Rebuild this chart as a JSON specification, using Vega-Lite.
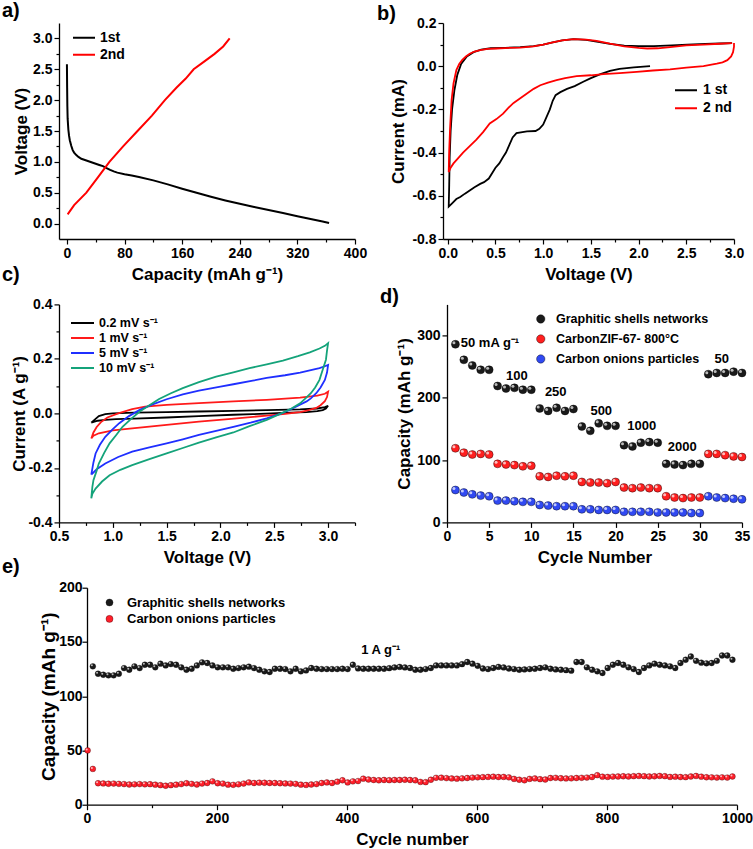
{
"$schema": "https://vega.github.io/schema/vega-lite/v6.json",
"padding": {"left": 2, "top": 1, "right": 0, "bottom": 0},
"config": {
 "view": {"stroke": null},
 "font": "Liberation Sans",
 "axis": {"grid": false, "domainColor": "#000", "domainWidth": 1.3, "tickColor": "#000", "tickWidth": 1.2, "labelColor": "#000", "titleColor": "#000", "labelFont": "Liberation Sans", "titleFont": "Liberation Sans", "labelFontWeight": "bold", "titleFontWeight": "bold", "labelFontSize": 14, "titleFontSize": 17, "labelPadding": 2, "titlePadding": 6, "labelFlush": false, "labelOverlap": false},
 "legend": {"labelFont": "Liberation Sans", "labelFontWeight": "bold", "labelColor": "#000", "padding": 0, "title": null, "labelLimit": 400},
 "title": {"font": "Liberation Sans", "fontWeight": "bold", "fontSize": 20, "color": "#000", "anchor": "start", "frame": "group", "offset": 0, "baseline": "alphabetic"}
},
"datasets": {
 "a": [
  {"s":"1st","i":0,"x":0,"y":2.58},{"s":"1st","i":1,"x":0.3,"y":2.2},{"s":"1st","i":2,"x":0.6,"y":1.9},{"s":"1st","i":3,"x":1,"y":1.7},{"s":"1st","i":4,"x":2,"y":1.52},{"s":"1st","i":5,"x":3,"y":1.42},{"s":"1st","i":6,"x":4,"y":1.35},{"s":"1st","i":7,"x":6,"y":1.26},{"s":"1st","i":8,"x":8,"y":1.19},{"s":"1st","i":9,"x":10,"y":1.15},{"s":"1st","i":10,"x":13,"y":1.11},{"s":"1st","i":11,"x":16,"y":1.08},{"s":"1st","i":12,"x":20,"y":1.05},{"s":"1st","i":13,"x":25,"y":1.03},{"s":"1st","i":14,"x":30,"y":1.01},{"s":"1st","i":15,"x":35,"y":0.99},{"s":"1st","i":16,"x":40,"y":0.97},{"s":"1st","i":17,"x":45,"y":0.95},{"s":"1st","i":18,"x":50,"y":0.93},{"s":"1st","i":19,"x":55,"y":0.9},{"s":"1st","i":20,"x":60,"y":0.87},{"s":"1st","i":21,"x":65,"y":0.845},{"s":"1st","i":22,"x":70,"y":0.825},{"s":"1st","i":23,"x":80,"y":0.8},{"s":"1st","i":24,"x":90,"y":0.78},{"s":"1st","i":25,"x":100,"y":0.755},{"s":"1st","i":26,"x":120,"y":0.7},{"s":"1st","i":27,"x":140,"y":0.635},{"s":"1st","i":28,"x":160,"y":0.565},{"s":"1st","i":29,"x":180,"y":0.5},{"s":"1st","i":30,"x":200,"y":0.435},{"s":"1st","i":31,"x":220,"y":0.375},{"s":"1st","i":32,"x":240,"y":0.32},{"s":"1st","i":33,"x":260,"y":0.27},{"s":"1st","i":34,"x":280,"y":0.22},{"s":"1st","i":35,"x":300,"y":0.17},{"s":"1st","i":36,"x":320,"y":0.12},{"s":"1st","i":37,"x":340,"y":0.07},{"s":"1st","i":38,"x":355,"y":0.035},{"s":"1st","i":39,"x":364,"y":0.01},
  {"s":"2nd","i":0,"x":1,"y":0.15},{"s":"2nd","i":1,"x":10,"y":0.3},{"s":"2nd","i":2,"x":27,"y":0.5},{"s":"2nd","i":3,"x":43,"y":0.75},{"s":"2nd","i":4,"x":59,"y":1.0},{"s":"2nd","i":5,"x":78,"y":1.25},{"s":"2nd","i":6,"x":98,"y":1.5},{"s":"2nd","i":7,"x":118,"y":1.75},{"s":"2nd","i":8,"x":136,"y":2.0},{"s":"2nd","i":9,"x":152,"y":2.2},{"s":"2nd","i":10,"x":165,"y":2.35},{"s":"2nd","i":11,"x":176,"y":2.5},{"s":"2nd","i":12,"x":190,"y":2.62},{"s":"2nd","i":13,"x":205,"y":2.75},{"s":"2nd","i":14,"x":217,"y":2.87},{"s":"2nd","i":15,"x":226,"y":3.0}
 ],
 "b": [
  {"s":"1 st","i":0,"x":2.12,"y":0.0},{"s":"1 st","i":1,"x":1.95,"y":-0.005},{"s":"1 st","i":2,"x":1.8,"y":-0.012},{"s":"1 st","i":3,"x":1.7,"y":-0.022},{"s":"1 st","i":4,"x":1.6,"y":-0.037},{"s":"1 st","i":5,"x":1.5,"y":-0.055},{"s":"1 st","i":6,"x":1.42,"y":-0.072},{"s":"1 st","i":7,"x":1.33,"y":-0.092},{"s":"1 st","i":8,"x":1.25,"y":-0.105},{"s":"1 st","i":9,"x":1.18,"y":-0.12},{"s":"1 st","i":10,"x":1.13,"y":-0.134},{"s":"1 st","i":11,"x":1.1,"y":-0.16},{"s":"1 st","i":12,"x":1.07,"y":-0.2},{"s":"1 st","i":13,"x":1.03,"y":-0.24},{"s":"1 st","i":14,"x":1.0,"y":-0.27},{"s":"1 st","i":15,"x":0.96,"y":-0.29},{"s":"1 st","i":16,"x":0.92,"y":-0.3},{"s":"1 st","i":17,"x":0.83,"y":-0.302},{"s":"1 st","i":18,"x":0.72,"y":-0.31},{"s":"1 st","i":19,"x":0.68,"y":-0.33},{"s":"1 st","i":20,"x":0.65,"y":-0.36},{"s":"1 st","i":21,"x":0.61,"y":-0.4},{"s":"1 st","i":22,"x":0.58,"y":-0.42},{"s":"1 st","i":23,"x":0.54,"y":-0.45},{"s":"1 st","i":24,"x":0.5,"y":-0.47},{"s":"1 st","i":25,"x":0.43,"y":-0.52},{"s":"1 st","i":26,"x":0.38,"y":-0.537},{"s":"1 st","i":27,"x":0.34,"y":-0.545},{"s":"1 st","i":28,"x":0.28,"y":-0.56},{"s":"1 st","i":29,"x":0.23,"y":-0.575},{"s":"1 st","i":30,"x":0.18,"y":-0.59},{"s":"1 st","i":31,"x":0.13,"y":-0.606},{"s":"1 st","i":32,"x":0.09,"y":-0.615},{"s":"1 st","i":33,"x":0.04,"y":-0.637},{"s":"1 st","i":34,"x":0.01,"y":-0.65},{"s":"1 st","i":35,"x":0.015,"y":-0.55},{"s":"1 st","i":36,"x":0.02,"y":-0.42},{"s":"1 st","i":37,"x":0.03,"y":-0.3},{"s":"1 st","i":38,"x":0.045,"y":-0.2},{"s":"1 st","i":39,"x":0.07,"y":-0.11},{"s":"1 st","i":40,"x":0.1,"y":-0.04},{"s":"1 st","i":41,"x":0.14,"y":0.01},{"s":"1 st","i":42,"x":0.2,"y":0.045},{"s":"1 st","i":43,"x":0.27,"y":0.065},{"s":"1 st","i":44,"x":0.35,"y":0.077},{"s":"1 st","i":45,"x":0.45,"y":0.083},{"s":"1 st","i":46,"x":0.6,"y":0.085},{"s":"1 st","i":47,"x":0.76,"y":0.088},{"s":"1 st","i":48,"x":0.9,"y":0.093},{"s":"1 st","i":49,"x":1.0,"y":0.1},{"s":"1 st","i":50,"x":1.1,"y":0.11},{"s":"1 st","i":51,"x":1.2,"y":0.12},{"s":"1 st","i":52,"x":1.32,"y":0.125},{"s":"1 st","i":53,"x":1.45,"y":0.122},{"s":"1 st","i":54,"x":1.56,"y":0.114},{"s":"1 st","i":55,"x":1.7,"y":0.103},{"s":"1 st","i":56,"x":1.85,"y":0.095},{"s":"1 st","i":57,"x":2.0,"y":0.093},{"s":"1 st","i":58,"x":2.16,"y":0.093},{"s":"1 st","i":59,"x":2.35,"y":0.096},{"s":"1 st","i":60,"x":2.51,"y":0.1},{"s":"1 st","i":61,"x":2.7,"y":0.103},{"s":"1 st","i":62,"x":2.85,"y":0.105},{"s":"1 st","i":63,"x":2.98,"y":0.107},
  {"s":"2 nd","i":0,"x":3.0,"y":0.107},{"s":"2 nd","i":1,"x":3.0,"y":0.09},{"s":"2 nd","i":2,"x":2.99,"y":0.065},{"s":"2 nd","i":3,"x":2.97,"y":0.045},{"s":"2 nd","i":4,"x":2.93,"y":0.028},{"s":"2 nd","i":5,"x":2.88,"y":0.018},{"s":"2 nd","i":6,"x":2.82,"y":0.012},{"s":"2 nd","i":7,"x":2.68,"y":0.0},{"s":"2 nd","i":8,"x":2.5,"y":-0.007},{"s":"2 nd","i":9,"x":2.33,"y":-0.015},{"s":"2 nd","i":10,"x":2.15,"y":-0.02},{"s":"2 nd","i":11,"x":1.98,"y":-0.026},{"s":"2 nd","i":12,"x":1.8,"y":-0.032},{"s":"2 nd","i":13,"x":1.63,"y":-0.037},{"s":"2 nd","i":14,"x":1.5,"y":-0.042},{"s":"2 nd","i":15,"x":1.35,"y":-0.046},{"s":"2 nd","i":16,"x":1.23,"y":-0.055},{"s":"2 nd","i":17,"x":1.14,"y":-0.065},{"s":"2 nd","i":18,"x":1.05,"y":-0.076},{"s":"2 nd","i":19,"x":0.97,"y":-0.088},{"s":"2 nd","i":20,"x":0.9,"y":-0.105},{"s":"2 nd","i":21,"x":0.83,"y":-0.126},{"s":"2 nd","i":22,"x":0.76,"y":-0.148},{"s":"2 nd","i":23,"x":0.69,"y":-0.17},{"s":"2 nd","i":24,"x":0.63,"y":-0.195},{"s":"2 nd","i":25,"x":0.58,"y":-0.22},{"s":"2 nd","i":26,"x":0.51,"y":-0.245},{"s":"2 nd","i":27,"x":0.44,"y":-0.265},{"s":"2 nd","i":28,"x":0.37,"y":-0.305},{"s":"2 nd","i":29,"x":0.3,"y":-0.34},{"s":"2 nd","i":30,"x":0.23,"y":-0.37},{"s":"2 nd","i":31,"x":0.16,"y":-0.4},{"s":"2 nd","i":32,"x":0.1,"y":-0.43},{"s":"2 nd","i":33,"x":0.06,"y":-0.45},{"s":"2 nd","i":34,"x":0.03,"y":-0.47},{"s":"2 nd","i":35,"x":0.01,"y":-0.49},{"s":"2 nd","i":36,"x":0.015,"y":-0.39},{"s":"2 nd","i":37,"x":0.025,"y":-0.28},{"s":"2 nd","i":38,"x":0.04,"y":-0.157},{"s":"2 nd","i":39,"x":0.06,"y":-0.08},{"s":"2 nd","i":40,"x":0.09,"y":-0.018},{"s":"2 nd","i":41,"x":0.12,"y":0.01},{"s":"2 nd","i":42,"x":0.15,"y":0.028},{"s":"2 nd","i":43,"x":0.19,"y":0.045},{"s":"2 nd","i":44,"x":0.23,"y":0.058},{"s":"2 nd","i":45,"x":0.28,"y":0.068},{"s":"2 nd","i":46,"x":0.34,"y":0.074},{"s":"2 nd","i":47,"x":0.42,"y":0.08},{"s":"2 nd","i":48,"x":0.51,"y":0.082},{"s":"2 nd","i":49,"x":0.6,"y":0.084},{"s":"2 nd","i":50,"x":0.76,"y":0.086},{"s":"2 nd","i":51,"x":0.9,"y":0.092},{"s":"2 nd","i":52,"x":1.0,"y":0.1},{"s":"2 nd","i":53,"x":1.1,"y":0.11},{"s":"2 nd","i":54,"x":1.2,"y":0.12},{"s":"2 nd","i":55,"x":1.32,"y":0.125},{"s":"2 nd","i":56,"x":1.45,"y":0.123},{"s":"2 nd","i":57,"x":1.56,"y":0.117},{"s":"2 nd","i":58,"x":1.7,"y":0.104},{"s":"2 nd","i":59,"x":1.85,"y":0.092},{"s":"2 nd","i":60,"x":2.0,"y":0.085},{"s":"2 nd","i":61,"x":2.09,"y":0.082},{"s":"2 nd","i":62,"x":2.2,"y":0.083},{"s":"2 nd","i":63,"x":2.33,"y":0.088},{"s":"2 nd","i":64,"x":2.5,"y":0.096},{"s":"2 nd","i":65,"x":2.68,"y":0.1},{"s":"2 nd","i":66,"x":2.85,"y":0.104},{"s":"2 nd","i":67,"x":2.98,"y":0.107}
 ],
 "c": [
  {"s":"0.2 mV s⁻¹","i":0,"x":0.8,"y":-0.034},{"s":"0.2 mV s⁻¹","i":1,"x":0.84,"y":-0.02},{"s":"0.2 mV s⁻¹","i":2,"x":0.87,"y":-0.01},{"s":"0.2 mV s⁻¹","i":3,"x":0.93,"y":-0.003},{"s":"0.2 mV s⁻¹","i":4,"x":1.0,"y":0.0},{"s":"0.2 mV s⁻¹","i":5,"x":1.2,"y":0.003},{"s":"0.2 mV s⁻¹","i":6,"x":1.5,"y":0.005},{"s":"0.2 mV s⁻¹","i":7,"x":1.8,"y":0.007},{"s":"0.2 mV s⁻¹","i":8,"x":2.12,"y":0.009},{"s":"0.2 mV s⁻¹","i":9,"x":2.43,"y":0.012},{"s":"0.2 mV s⁻¹","i":10,"x":2.74,"y":0.015},{"s":"0.2 mV s⁻¹","i":11,"x":2.9,"y":0.018},{"s":"0.2 mV s⁻¹","i":12,"x":2.97,"y":0.023},{"s":"0.2 mV s⁻¹","i":13,"x":3.0,"y":0.028},{"s":"0.2 mV s⁻¹","i":14,"x":2.98,"y":0.018},{"s":"0.2 mV s⁻¹","i":15,"x":2.95,"y":0.012},{"s":"0.2 mV s⁻¹","i":16,"x":2.9,"y":0.008},{"s":"0.2 mV s⁻¹","i":17,"x":2.8,"y":0.005},{"s":"0.2 mV s⁻¹","i":18,"x":2.58,"y":0.002},{"s":"0.2 mV s⁻¹","i":19,"x":2.3,"y":-0.003},{"s":"0.2 mV s⁻¹","i":20,"x":2.12,"y":-0.005},{"s":"0.2 mV s⁻¹","i":21,"x":1.8,"y":-0.01},{"s":"0.2 mV s⁻¹","i":22,"x":1.5,"y":-0.015},{"s":"0.2 mV s⁻¹","i":23,"x":1.2,"y":-0.019},{"s":"0.2 mV s⁻¹","i":24,"x":1.03,"y":-0.021},{"s":"0.2 mV s⁻¹","i":25,"x":0.93,"y":-0.024},{"s":"0.2 mV s⁻¹","i":26,"x":0.86,"y":-0.027},{"s":"0.2 mV s⁻¹","i":27,"x":0.8,"y":-0.034},
  {"s":"1 mV s⁻¹","i":0,"x":0.8,"y":-0.092},{"s":"1 mV s⁻¹","i":1,"x":0.82,"y":-0.07},{"s":"1 mV s⁻¹","i":2,"x":0.85,"y":-0.05},{"s":"1 mV s⁻¹","i":3,"x":0.89,"y":-0.032},{"s":"1 mV s⁻¹","i":4,"x":0.95,"y":-0.015},{"s":"1 mV s⁻¹","i":5,"x":1.05,"y":0.0},{"s":"1 mV s⁻¹","i":6,"x":1.18,"y":0.016},{"s":"1 mV s⁻¹","i":7,"x":1.3,"y":0.025},{"s":"1 mV s⁻¹","i":8,"x":1.5,"y":0.031},{"s":"1 mV s⁻¹","i":9,"x":1.8,"y":0.038},{"s":"1 mV s⁻¹","i":10,"x":2.12,"y":0.044},{"s":"1 mV s⁻¹","i":11,"x":2.43,"y":0.05},{"s":"1 mV s⁻¹","i":12,"x":2.74,"y":0.058},{"s":"1 mV s⁻¹","i":13,"x":2.9,"y":0.065},{"s":"1 mV s⁻¹","i":14,"x":2.97,"y":0.072},{"s":"1 mV s⁻¹","i":15,"x":3.0,"y":0.08},{"s":"1 mV s⁻¹","i":16,"x":2.99,"y":0.06},{"s":"1 mV s⁻¹","i":17,"x":2.97,"y":0.045},{"s":"1 mV s⁻¹","i":18,"x":2.93,"y":0.03},{"s":"1 mV s⁻¹","i":19,"x":2.89,"y":0.02},{"s":"1 mV s⁻¹","i":20,"x":2.82,"y":0.012},{"s":"1 mV s⁻¹","i":21,"x":2.74,"y":0.005},{"s":"1 mV s⁻¹","i":22,"x":2.6,"y":-0.002},{"s":"1 mV s⁻¹","i":23,"x":2.43,"y":-0.008},{"s":"1 mV s⁻¹","i":24,"x":2.1,"y":-0.02},{"s":"1 mV s⁻¹","i":25,"x":1.8,"y":-0.03},{"s":"1 mV s⁻¹","i":26,"x":1.5,"y":-0.042},{"s":"1 mV s⁻¹","i":27,"x":1.18,"y":-0.055},{"s":"1 mV s⁻¹","i":28,"x":1.0,"y":-0.062},{"s":"1 mV s⁻¹","i":29,"x":0.87,"y":-0.073},{"s":"1 mV s⁻¹","i":30,"x":0.82,"y":-0.082},{"s":"1 mV s⁻¹","i":31,"x":0.8,"y":-0.092},
  {"s":"5 mV s⁻¹","i":0,"x":0.8,"y":-0.225},{"s":"5 mV s⁻¹","i":1,"x":0.82,"y":-0.18},{"s":"5 mV s⁻¹","i":2,"x":0.84,"y":-0.147},{"s":"5 mV s⁻¹","i":3,"x":0.88,"y":-0.115},{"s":"5 mV s⁻¹","i":4,"x":0.93,"y":-0.086},{"s":"5 mV s⁻¹","i":5,"x":1.0,"y":-0.058},{"s":"5 mV s⁻¹","i":6,"x":1.06,"y":-0.036},{"s":"5 mV s⁻¹","i":7,"x":1.15,"y":-0.01},{"s":"5 mV s⁻¹","i":8,"x":1.25,"y":0.013},{"s":"5 mV s⁻¹","i":9,"x":1.37,"y":0.033},{"s":"5 mV s⁻¹","i":10,"x":1.5,"y":0.052},{"s":"5 mV s⁻¹","i":11,"x":1.65,"y":0.07},{"s":"5 mV s⁻¹","i":12,"x":1.8,"y":0.084},{"s":"5 mV s⁻¹","i":13,"x":2.0,"y":0.098},{"s":"5 mV s⁻¹","i":14,"x":2.12,"y":0.107},{"s":"5 mV s⁻¹","i":15,"x":2.3,"y":0.12},{"s":"5 mV s⁻¹","i":16,"x":2.43,"y":0.13},{"s":"5 mV s⁻¹","i":17,"x":2.6,"y":0.14},{"s":"5 mV s⁻¹","i":18,"x":2.74,"y":0.15},{"s":"5 mV s⁻¹","i":19,"x":2.85,"y":0.16},{"s":"5 mV s⁻¹","i":20,"x":2.92,"y":0.166},{"s":"5 mV s⁻¹","i":21,"x":2.97,"y":0.173},{"s":"5 mV s⁻¹","i":22,"x":3.0,"y":0.178},{"s":"5 mV s⁻¹","i":23,"x":2.99,"y":0.15},{"s":"5 mV s⁻¹","i":24,"x":2.97,"y":0.123},{"s":"5 mV s⁻¹","i":25,"x":2.93,"y":0.095},{"s":"5 mV s⁻¹","i":26,"x":2.89,"y":0.074},{"s":"5 mV s⁻¹","i":27,"x":2.84,"y":0.055},{"s":"5 mV s⁻¹","i":28,"x":2.8,"y":0.044},{"s":"5 mV s⁻¹","i":29,"x":2.72,"y":0.028},{"s":"5 mV s⁻¹","i":30,"x":2.64,"y":0.013},{"s":"5 mV s⁻¹","i":31,"x":2.55,"y":-0.003},{"s":"5 mV s⁻¹","i":32,"x":2.43,"y":-0.018},{"s":"5 mV s⁻¹","i":33,"x":2.28,"y":-0.034},{"s":"5 mV s⁻¹","i":34,"x":2.12,"y":-0.049},{"s":"5 mV s⁻¹","i":35,"x":1.96,"y":-0.064},{"s":"5 mV s⁻¹","i":36,"x":1.8,"y":-0.079},{"s":"5 mV s⁻¹","i":37,"x":1.65,"y":-0.095},{"s":"5 mV s⁻¹","i":38,"x":1.5,"y":-0.11},{"s":"5 mV s⁻¹","i":39,"x":1.34,"y":-0.125},{"s":"5 mV s⁻¹","i":40,"x":1.18,"y":-0.14},{"s":"5 mV s⁻¹","i":41,"x":1.05,"y":-0.16},{"s":"5 mV s⁻¹","i":42,"x":0.93,"y":-0.184},{"s":"5 mV s⁻¹","i":43,"x":0.85,"y":-0.205},{"s":"5 mV s⁻¹","i":44,"x":0.8,"y":-0.225},
  {"s":"10 mV s⁻¹","i":0,"x":0.8,"y":-0.312},{"s":"10 mV s⁻¹","i":1,"x":0.81,"y":-0.27},{"s":"10 mV s⁻¹","i":2,"x":0.82,"y":-0.245},{"s":"10 mV s⁻¹","i":3,"x":0.85,"y":-0.21},{"s":"10 mV s⁻¹","i":4,"x":0.87,"y":-0.184},{"s":"10 mV s⁻¹","i":5,"x":0.92,"y":-0.145},{"s":"10 mV s⁻¹","i":6,"x":0.97,"y":-0.11},{"s":"10 mV s⁻¹","i":7,"x":1.03,"y":-0.08},{"s":"10 mV s⁻¹","i":8,"x":1.09,"y":-0.049},{"s":"10 mV s⁻¹","i":9,"x":1.17,"y":-0.02},{"s":"10 mV s⁻¹","i":10,"x":1.25,"y":0.007},{"s":"10 mV s⁻¹","i":11,"x":1.34,"y":0.03},{"s":"10 mV s⁻¹","i":12,"x":1.43,"y":0.053},{"s":"10 mV s⁻¹","i":13,"x":1.54,"y":0.074},{"s":"10 mV s⁻¹","i":14,"x":1.65,"y":0.093},{"s":"10 mV s⁻¹","i":15,"x":1.8,"y":0.115},{"s":"10 mV s⁻¹","i":16,"x":1.96,"y":0.135},{"s":"10 mV s⁻¹","i":17,"x":2.12,"y":0.151},{"s":"10 mV s⁻¹","i":18,"x":2.27,"y":0.166},{"s":"10 mV s⁻¹","i":19,"x":2.43,"y":0.18},{"s":"10 mV s⁻¹","i":20,"x":2.58,"y":0.194},{"s":"10 mV s⁻¹","i":21,"x":2.72,"y":0.21},{"s":"10 mV s⁻¹","i":22,"x":2.83,"y":0.224},{"s":"10 mV s⁻¹","i":23,"x":2.92,"y":0.238},{"s":"10 mV s⁻¹","i":24,"x":2.97,"y":0.248},{"s":"10 mV s⁻¹","i":25,"x":3.0,"y":0.258},{"s":"10 mV s⁻¹","i":26,"x":2.99,"y":0.23},{"s":"10 mV s⁻¹","i":27,"x":2.98,"y":0.197},{"s":"10 mV s⁻¹","i":28,"x":2.95,"y":0.16},{"s":"10 mV s⁻¹","i":29,"x":2.92,"y":0.123},{"s":"10 mV s⁻¹","i":30,"x":2.88,"y":0.095},{"s":"10 mV s⁻¹","i":31,"x":2.84,"y":0.074},{"s":"10 mV s⁻¹","i":32,"x":2.79,"y":0.055},{"s":"10 mV s⁻¹","i":33,"x":2.74,"y":0.037},{"s":"10 mV s⁻¹","i":34,"x":2.66,"y":0.018},{"s":"10 mV s⁻¹","i":35,"x":2.58,"y":0.003},{"s":"10 mV s⁻¹","i":36,"x":2.43,"y":-0.024},{"s":"10 mV s⁻¹","i":37,"x":2.27,"y":-0.047},{"s":"10 mV s⁻¹","i":38,"x":2.12,"y":-0.07},{"s":"10 mV s⁻¹","i":39,"x":1.96,"y":-0.088},{"s":"10 mV s⁻¹","i":40,"x":1.8,"y":-0.107},{"s":"10 mV s⁻¹","i":41,"x":1.65,"y":-0.127},{"s":"10 mV s⁻¹","i":42,"x":1.5,"y":-0.147},{"s":"10 mV s⁻¹","i":43,"x":1.34,"y":-0.168},{"s":"10 mV s⁻¹","i":44,"x":1.18,"y":-0.19},{"s":"10 mV s⁻¹","i":45,"x":1.07,"y":-0.207},{"s":"10 mV s⁻¹","i":46,"x":0.97,"y":-0.227},{"s":"10 mV s⁻¹","i":47,"x":0.9,"y":-0.25},{"s":"10 mV s⁻¹","i":48,"x":0.84,"y":-0.276},{"s":"10 mV s⁻¹","i":49,"x":0.81,"y":-0.295},{"s":"10 mV s⁻¹","i":50,"x":0.8,"y":-0.312}
 ],
 "d": [
  {"s":"G","x":1,"y":286},{"s":"G","x":2,"y":261},{"s":"G","x":3,"y":252},{"s":"G","x":4,"y":245},{"s":"G","x":5,"y":245},{"s":"G","x":6,"y":219},{"s":"G","x":7,"y":215},{"s":"G","x":8,"y":216},{"s":"G","x":9,"y":213},{"s":"G","x":10,"y":213},{"s":"G","x":11,"y":183},{"s":"G","x":12,"y":179},{"s":"G","x":13,"y":184},{"s":"G","x":14,"y":179},{"s":"G","x":15,"y":182},{"s":"G","x":16,"y":154},{"s":"G","x":17,"y":147},{"s":"G","x":18,"y":159},{"s":"G","x":19,"y":155},{"s":"G","x":20,"y":155},{"s":"G","x":21,"y":124},{"s":"G","x":22,"y":122},{"s":"G","x":23,"y":128},{"s":"G","x":24,"y":129},{"s":"G","x":25,"y":128},{"s":"G","x":26,"y":94},{"s":"G","x":27,"y":93},{"s":"G","x":28,"y":92},{"s":"G","x":29,"y":94},{"s":"G","x":30,"y":94},{"s":"G","x":31,"y":238},{"s":"G","x":32,"y":240},{"s":"G","x":33,"y":240},{"s":"G","x":34,"y":242},{"s":"G","x":35,"y":240},
  {"s":"Z","x":1,"y":119},{"s":"Z","x":2,"y":112},{"s":"Z","x":3,"y":109},{"s":"Z","x":4,"y":110},{"s":"Z","x":5,"y":109},{"s":"Z","x":6,"y":94},{"s":"Z","x":7,"y":93},{"s":"Z","x":8,"y":92},{"s":"Z","x":9,"y":90},{"s":"Z","x":10,"y":91},{"s":"Z","x":11,"y":74},{"s":"Z","x":12,"y":73},{"s":"Z","x":13,"y":75},{"s":"Z","x":14,"y":74},{"s":"Z","x":15,"y":75},{"s":"Z","x":16,"y":65},{"s":"Z","x":17,"y":64},{"s":"Z","x":18,"y":64},{"s":"Z","x":19,"y":63},{"s":"Z","x":20,"y":65},{"s":"Z","x":21,"y":56},{"s":"Z","x":22,"y":55},{"s":"Z","x":23,"y":56},{"s":"Z","x":24,"y":55},{"s":"Z","x":25,"y":55},{"s":"Z","x":26,"y":42},{"s":"Z","x":27,"y":40},{"s":"Z","x":28,"y":39},{"s":"Z","x":29,"y":40},{"s":"Z","x":30,"y":40},{"s":"Z","x":31,"y":110},{"s":"Z","x":32,"y":110},{"s":"Z","x":33,"y":108},{"s":"Z","x":34,"y":106},{"s":"Z","x":35,"y":105},
  {"s":"O","x":1,"y":52},{"s":"O","x":2,"y":48},{"s":"O","x":3,"y":45},{"s":"O","x":4,"y":43},{"s":"O","x":5,"y":42},{"s":"O","x":6,"y":35},{"s":"O","x":7,"y":35},{"s":"O","x":8,"y":34},{"s":"O","x":9,"y":33},{"s":"O","x":10,"y":33},{"s":"O","x":11,"y":28},{"s":"O","x":12,"y":27},{"s":"O","x":13,"y":26},{"s":"O","x":14,"y":26},{"s":"O","x":15,"y":26},{"s":"O","x":16,"y":21},{"s":"O","x":17,"y":21},{"s":"O","x":18,"y":20},{"s":"O","x":19,"y":20},{"s":"O","x":20,"y":20},{"s":"O","x":21,"y":17},{"s":"O","x":22,"y":17},{"s":"O","x":23,"y":17},{"s":"O","x":24,"y":17},{"s":"O","x":25,"y":16},{"s":"O","x":26,"y":16},{"s":"O","x":27,"y":16},{"s":"O","x":28,"y":16},{"s":"O","x":29,"y":15},{"s":"O","x":30,"y":15},{"s":"O","x":31,"y":42},{"s":"O","x":32,"y":40},{"s":"O","x":33,"y":39},{"s":"O","x":34,"y":38},{"s":"O","x":35,"y":37}
 ],
 "dnote": [
  {"x":5.1,"y":288,"t":"50 mA g⁻¹"},{"x":8.3,"y":235,"t":"100"},{"x":12.9,"y":210,"t":"250"},{"x":18.3,"y":179,"t":"500"},{"x":23.1,"y":155,"t":"1000"},{"x":27.9,"y":121,"t":"2000"},{"x":32.6,"y":263,"t":"50"}
 ],
 "e": [
  {"s":"G","x":9,"y":127.5},{"s":"G","x":17,"y":120.7},{"s":"G","x":25,"y":119.8},{"s":"G","x":33,"y":119.2},{"s":"G","x":41,"y":119.2},{"s":"G","x":49,"y":120.7},{"s":"G","x":57,"y":125.9},{"s":"G","x":65,"y":124.4},{"s":"G","x":73,"y":127.5},{"s":"G","x":81,"y":125.9},{"s":"G","x":89,"y":129},{"s":"G","x":97,"y":129},{"s":"G","x":105,"y":126.6},{"s":"G","x":113,"y":130},{"s":"G","x":121,"y":128.4},{"s":"G","x":129,"y":129.6},{"s":"G","x":137,"y":129},{"s":"G","x":145,"y":126.6},{"s":"G","x":153,"y":124.4},{"s":"G","x":161,"y":125.3},{"s":"G","x":169,"y":128.4},{"s":"G","x":177,"y":131.2},{"s":"G","x":185,"y":130.6},{"s":"G","x":193,"y":128.4},{"s":"G","x":201,"y":126.6},{"s":"G","x":209,"y":126.6},{"s":"G","x":217,"y":126.6},{"s":"G","x":225,"y":125.3},{"s":"G","x":233,"y":125.9},{"s":"G","x":241,"y":126.6},{"s":"G","x":249,"y":127.2},{"s":"G","x":257,"y":125.9},{"s":"G","x":265,"y":124.4},{"s":"G","x":273,"y":122.9},{"s":"G","x":281,"y":122.3},{"s":"G","x":289,"y":125.3},{"s":"G","x":297,"y":125.3},{"s":"G","x":305,"y":125},{"s":"G","x":313,"y":122.9},{"s":"G","x":321,"y":125.3},{"s":"G","x":329,"y":122.9},{"s":"G","x":337,"y":123.8},{"s":"G","x":345,"y":126},{"s":"G","x":353,"y":125.3},{"s":"G","x":361,"y":125},{"s":"G","x":369,"y":125},{"s":"G","x":377,"y":125},{"s":"G","x":385,"y":125},{"s":"G","x":393,"y":125.3},{"s":"G","x":401,"y":125},{"s":"G","x":409,"y":129},{"s":"G","x":417,"y":125.6},{"s":"G","x":425,"y":125.3},{"s":"G","x":433,"y":125.3},{"s":"G","x":441,"y":125.3},{"s":"G","x":449,"y":125.3},{"s":"G","x":457,"y":125.3},{"s":"G","x":465,"y":125.8},{"s":"G","x":473,"y":126.5},{"s":"G","x":481,"y":127},{"s":"G","x":489,"y":126.5},{"s":"G","x":497,"y":126},{"s":"G","x":505,"y":124.4},{"s":"G","x":513,"y":124.4},{"s":"G","x":521,"y":125},{"s":"G","x":529,"y":126},{"s":"G","x":537,"y":128.4},{"s":"G","x":545,"y":128.4},{"s":"G","x":553,"y":128.4},{"s":"G","x":561,"y":128.4},{"s":"G","x":569,"y":128.4},{"s":"G","x":577,"y":129.5},{"s":"G","x":585,"y":131.5},{"s":"G","x":593,"y":130},{"s":"G","x":601,"y":128},{"s":"G","x":609,"y":125.5},{"s":"G","x":617,"y":125},{"s":"G","x":625,"y":126},{"s":"G","x":633,"y":127},{"s":"G","x":641,"y":126.5},{"s":"G","x":649,"y":125.5},{"s":"G","x":657,"y":125},{"s":"G","x":665,"y":124.4},{"s":"G","x":673,"y":124.7},{"s":"G","x":681,"y":125},{"s":"G","x":689,"y":125.3},{"s":"G","x":697,"y":126},{"s":"G","x":705,"y":126.6},{"s":"G","x":713,"y":125.3},{"s":"G","x":721,"y":124.7},{"s":"G","x":729,"y":124.4},{"s":"G","x":737,"y":124},{"s":"G","x":745,"y":123.5},{"s":"G","x":753,"y":131.5},{"s":"G","x":761,"y":131.5},{"s":"G","x":769,"y":126.6},{"s":"G","x":777,"y":124.4},{"s":"G","x":785,"y":122.9},{"s":"G","x":793,"y":121.4},{"s":"G","x":801,"y":126},{"s":"G","x":809,"y":129},{"s":"G","x":817,"y":130.6},{"s":"G","x":825,"y":129},{"s":"G","x":833,"y":126.6},{"s":"G","x":841,"y":125},{"s":"G","x":849,"y":122.3},{"s":"G","x":857,"y":126},{"s":"G","x":865,"y":128.4},{"s":"G","x":873,"y":130},{"s":"G","x":881,"y":129},{"s":"G","x":889,"y":128.4},{"s":"G","x":897,"y":127.5},{"s":"G","x":905,"y":126},{"s":"G","x":913,"y":130.6},{"s":"G","x":921,"y":133.6},{"s":"G","x":929,"y":136.6},{"s":"G","x":937,"y":132.6},{"s":"G","x":945,"y":130.9},{"s":"G","x":953,"y":130.3},{"s":"G","x":961,"y":130.6},{"s":"G","x":969,"y":132.6},{"s":"G","x":977,"y":137.5},{"s":"G","x":985,"y":137.5},{"s":"G","x":993,"y":133.6},
  {"s":"O","x":1,"y":50},{"s":"O","x":9,"y":33},{"s":"O","x":17,"y":19.8},{"s":"O","x":25,"y":19.6},{"s":"O","x":33,"y":19.3},{"s":"O","x":41,"y":19.5},{"s":"O","x":49,"y":19.2},{"s":"O","x":57,"y":19.0},{"s":"O","x":65,"y":18.6},{"s":"O","x":73,"y":18.8},{"s":"O","x":81,"y":19.0},{"s":"O","x":89,"y":18.8},{"s":"O","x":97,"y":18.9},{"s":"O","x":105,"y":18.5},{"s":"O","x":113,"y":18.0},{"s":"O","x":121,"y":17.5},{"s":"O","x":129,"y":18.0},{"s":"O","x":137,"y":18.5},{"s":"O","x":145,"y":19.0},{"s":"O","x":153,"y":19.8},{"s":"O","x":161,"y":19.2},{"s":"O","x":169,"y":18.6},{"s":"O","x":177,"y":19.5},{"s":"O","x":185,"y":20.0},{"s":"O","x":193,"y":21.5},{"s":"O","x":201,"y":19.8},{"s":"O","x":209,"y":19.5},{"s":"O","x":217,"y":18.5},{"s":"O","x":225,"y":18.3},{"s":"O","x":233,"y":18.8},{"s":"O","x":241,"y":19.5},{"s":"O","x":249,"y":20.5},{"s":"O","x":257,"y":20.0},{"s":"O","x":265,"y":20.3},{"s":"O","x":273,"y":20.2},{"s":"O","x":281,"y":20.0},{"s":"O","x":289,"y":20.0},{"s":"O","x":297,"y":19.8},{"s":"O","x":305,"y":19.6},{"s":"O","x":313,"y":19.5},{"s":"O","x":321,"y":19.2},{"s":"O","x":329,"y":18.5},{"s":"O","x":337,"y":18.2},{"s":"O","x":345,"y":18.6},{"s":"O","x":353,"y":19.0},{"s":"O","x":361,"y":20.0},{"s":"O","x":369,"y":20.5},{"s":"O","x":377,"y":20.0},{"s":"O","x":385,"y":21.2},{"s":"O","x":393,"y":22.5},{"s":"O","x":401,"y":20.5},{"s":"O","x":409,"y":21.5},{"s":"O","x":417,"y":21.8},{"s":"O","x":425,"y":24.0},{"s":"O","x":433,"y":23.2},{"s":"O","x":441,"y":22.8},{"s":"O","x":449,"y":22.5},{"s":"O","x":457,"y":22.8},{"s":"O","x":465,"y":22.6},{"s":"O","x":473,"y":22.8},{"s":"O","x":481,"y":22.8},{"s":"O","x":489,"y":23.0},{"s":"O","x":497,"y":22.8},{"s":"O","x":505,"y":22.5},{"s":"O","x":513,"y":21.0},{"s":"O","x":521,"y":20.8},{"s":"O","x":529,"y":23.0},{"s":"O","x":537,"y":24.8},{"s":"O","x":545,"y":24.9},{"s":"O","x":553,"y":24.5},{"s":"O","x":561,"y":24.2},{"s":"O","x":569,"y":24.0},{"s":"O","x":577,"y":24.3},{"s":"O","x":585,"y":24.6},{"s":"O","x":593,"y":25.0},{"s":"O","x":601,"y":25.2},{"s":"O","x":609,"y":25.4},{"s":"O","x":617,"y":25.6},{"s":"O","x":625,"y":25.8},{"s":"O","x":633,"y":25.5},{"s":"O","x":641,"y":25.6},{"s":"O","x":649,"y":25.2},{"s":"O","x":657,"y":23.8},{"s":"O","x":665,"y":23.0},{"s":"O","x":673,"y":22.5},{"s":"O","x":681,"y":23.8},{"s":"O","x":689,"y":24.2},{"s":"O","x":697,"y":23.5},{"s":"O","x":705,"y":23.2},{"s":"O","x":713,"y":24.6},{"s":"O","x":721,"y":24.8},{"s":"O","x":729,"y":24.4},{"s":"O","x":737,"y":24.2},{"s":"O","x":745,"y":24.3},{"s":"O","x":753,"y":24.6},{"s":"O","x":761,"y":24.8},{"s":"O","x":769,"y":25.0},{"s":"O","x":777,"y":25.5},{"s":"O","x":785,"y":27.2},{"s":"O","x":793,"y":25.8},{"s":"O","x":801,"y":25.6},{"s":"O","x":809,"y":25.9},{"s":"O","x":817,"y":26.0},{"s":"O","x":825,"y":26.2},{"s":"O","x":833,"y":26.0},{"s":"O","x":841,"y":26.3},{"s":"O","x":849,"y":26.5},{"s":"O","x":857,"y":26.3},{"s":"O","x":865,"y":26.0},{"s":"O","x":873,"y":26.2},{"s":"O","x":881,"y":26.5},{"s":"O","x":889,"y":26.3},{"s":"O","x":897,"y":25.6},{"s":"O","x":905,"y":25.8},{"s":"O","x":913,"y":25.5},{"s":"O","x":921,"y":25.4},{"s":"O","x":929,"y":26.0},{"s":"O","x":937,"y":26.5},{"s":"O","x":945,"y":25.8},{"s":"O","x":953,"y":25.3},{"s":"O","x":961,"y":25.2},{"s":"O","x":969,"y":25.0},{"s":"O","x":977,"y":25.2},{"s":"O","x":985,"y":25.0},{"s":"O","x":993,"y":26.0}
 ],
 "enote": [{"x":452,"y":142.5,"t":"1 A g⁻¹"}]
},
"spacing": -9.3,
"resolve": {"scale": {"color": "independent"}, "legend": {"color": "independent"}},
"vconcat": [
 {"spacing": -17.6,
  "resolve": {"scale": {"color": "independent"}, "legend": {"color": "independent"}},
  "vconcat": [
  {"hconcat": [
   {"width": 296, "height": 216,
    "title": {"text": "a)", "dx": -57, "dy": 2},
    "data": {"name": "a"},
    "mark": {"type": "line", "strokeWidth": 2},
    "encoding": {
     "x": {"field": "x", "type": "quantitative", "scale": {"domain": [-11, 400], "nice": false, "zero": false},
       "axis": {"title": "Capacity (mAh g⁻¹)", "values": [0,40,80,120,160,200,240,280,320,360,400], "labelExpr": "datum.value % 80 == 0 ? datum.label : ''", "tickSize": {"condition": {"test": "datum.value % 80 == 0", "value": 5}, "value": 3}}},
     "y": {"field": "y", "type": "quantitative", "scale": {"domain": [-0.25, 3.25], "nice": false, "zero": false},
       "axis": {"title": "Voltage (V)", "titlePadding": 2, "format": ".1f", "values": [0,0.25,0.5,0.75,1,1.25,1.5,1.75,2,2.25,2.5,2.75,3], "labelExpr": "round(datum.value*2) == datum.value*2 ? datum.label : ''", "tickSize": {"condition": {"test": "round(datum.value*2) == datum.value*2", "value": 5}, "value": 3}}},
     "color": {"field": "s", "type": "nominal", "scale": {"domain": ["1st", "2nd"], "range": ["#000000", "#ff0000"]},
       "legend": {"orient": "none", "legendX": 13, "legendY": 6.4, "symbolType": "stroke", "symbolSize": 484, "symbolStrokeWidth": 2, "labelFontSize": 14, "clipHeight": 16.6, "rowPadding": 0, "labelOffset": 4}},
     "order": {"field": "i"}
    }
   },
   {"width": 291, "height": 216,
    "title": {"text": "b)", "dx": -66, "dy": 12},
    "data": {"name": "b"},
    "mark": {"type": "line", "strokeWidth": 1.8},
    "encoding": {
     "x": {"field": "x", "type": "quantitative", "scale": {"domain": [-0.05, 3.0], "nice": false, "zero": false},
       "axis": {"title": "Voltage (V)", "format": ".1f", "values": [0,0.25,0.5,0.75,1,1.25,1.5,1.75,2,2.25,2.5,2.75,3], "labelExpr": "round(datum.value*2) == datum.value*2 ? datum.label : ''", "tickSize": {"condition": {"test": "round(datum.value*2) == datum.value*2", "value": 5}, "value": 3}}},
     "y": {"field": "y", "type": "quantitative", "scale": {"domain": [-0.8, 0.2], "nice": false, "zero": false},
       "axis": {"title": "Current (mA)", "titlePadding": 4, "format": ".1f", "values": [-0.8,-0.7,-0.6,-0.5,-0.4,-0.3,-0.2,-0.1,0,0.1,0.2], "labelExpr": "abs(round(datum.value*10)) % 2 == 0 ? replace(datum.label, '\u2212', '-') : ''", "tickSize": {"condition": {"test": "abs(round(datum.value*10)) % 2 == 0", "value": 5}, "value": 3}}},
     "color": {"field": "s", "type": "nominal", "scale": {"domain": ["1 st", "2 nd"], "range": ["#000000", "#ff0000"]},
       "legend": {"orient": "none", "legendX": 231, "legendY": 58.3, "symbolType": "stroke", "symbolSize": 484, "symbolStrokeWidth": 2, "labelFontSize": 14, "clipHeight": 18, "rowPadding": 0, "labelOffset": 5}},
     "order": {"field": "i"}
    }
   }
  ], "spacing": 88, "bounds": "flush", "resolve": {"scale": {"color": "independent"}, "legend": {"color": "independent"}}},
  {"hconcat": [
   {"width": 296, "height": 218,
    "title": {"text": "c)", "dx": -57, "dy": -8.4},
    "data": {"name": "c"},
    "mark": {"type": "line", "strokeWidth": 1.8},
    "encoding": {
     "x": {"field": "x", "type": "quantitative", "scale": {"domain": [0.5, 3.25], "nice": false, "zero": false},
       "axis": {"title": "Voltage (V)", "format": ".1f", "values": [0.5,0.75,1,1.25,1.5,1.75,2,2.25,2.5,2.75,3,3.25], "labelExpr": "round(datum.value*2) == datum.value*2 ? datum.label : ''", "tickSize": {"condition": {"test": "round(datum.value*2) == datum.value*2", "value": 5}, "value": 3}}},
     "y": {"field": "y", "type": "quantitative", "scale": {"domain": [-0.4, 0.4], "nice": false, "zero": false},
       "axis": {"title": "Current (A g⁻¹)", "titlePadding": -1, "format": ".1f", "values": [-0.4,-0.3,-0.2,-0.1,0,0.1,0.2,0.3,0.4], "labelExpr": "abs(round(datum.value*10)) % 2 == 0 ? replace(datum.label, '\u2212', '-') : ''", "tickSize": {"condition": {"test": "abs(round(datum.value*10)) % 2 == 0", "value": 5}, "value": 3}}},
     "color": {"field": "s", "type": "nominal", "scale": {"domain": ["0.2 mV s⁻¹", "1 mV s⁻¹", "5 mV s⁻¹", "10 mV s⁻¹"], "range": ["#000000", "#ff1a1a", "#1f2fff", "#14a37a"]},
       "legend": {"orient": "none", "legendX": 11, "legendY": 11.2, "symbolType": "stroke", "symbolSize": 529, "symbolStrokeWidth": 2, "labelFontSize": 12.5, "clipHeight": 15, "rowPadding": 0, "labelOffset": 4}},
     "order": {"field": "i"}
    }
   },
   {"width": 295, "height": 218,
    "title": {"text": "d)", "dx": -67, "dy": 6.6},
    "data": {"name": "d"},
    "layer": [
     {"mark": {"type": "point", "filled": true, "size": 64, "opacity": 1, "stroke": "#000", "strokeWidth": 0.4},
      "encoding": {
       "x": {"field": "x", "type": "quantitative", "scale": {"domain": [0, 35], "nice": false, "zero": false},
         "axis": {"title": "Cycle Number", "values": [0,2.5,5,7.5,10,12.5,15,17.5,20,22.5,25,27.5,30,32.5,35], "labelExpr": "datum.value % 5 == 0 ? datum.label : ''", "tickSize": {"condition": {"test": "datum.value % 5 == 0", "value": 5}, "value": 3}}},
       "y": {"field": "y", "type": "quantitative", "scale": {"domain": [0, 350], "nice": false, "zero": false},
         "axis": {"title": "Capacity (mAh g⁻¹)", "titlePadding": 3, "values": [0,25,50,75,100,125,150,175,200,225,250,275,300,325,350], "labelExpr": "datum.value % 50 == 0 ? datum.label : ''", "tickSize": {"condition": {"test": "datum.value % 50 == 0", "value": 5}, "value": 3}}},
       "color": {"field": "s", "type": "nominal", "scale": {"domain": ["G", "Z", "O"], "range": ["#1a1a1a", "#ff1f1f", "#3049f2"]},
         "legend": {"orient": "none", "legendX": 87.5, "legendY": 8.3, "symbolType": "circle", "symbolSize": 70, "symbolStrokeColor": "#000", "symbolStrokeWidth": 0.4, "labelFontSize": 12.5, "rowPadding": 7, "labelOffset": 9,
           "labelExpr": "datum.value == 'G' ? 'Graphitic shells networks' : datum.value == 'Z' ? 'CarbonZIF-67- 800°C' : 'Carbon onions particles'"}}
      }},
     {"mark": {"type": "point", "filled": true, "size": 9, "color": "#ffffff", "opacity": 0.7, "strokeWidth": 0, "xOffset": -1.5, "yOffset": -1.5},
      "encoding": {"x": {"field": "x", "type": "quantitative"}, "y": {"field": "y", "type": "quantitative"}}},
     {"data": {"name": "dnote"},
      "mark": {"type": "text", "fontWeight": "bold", "fontSize": 13, "font": "Liberation Sans", "align": "center", "baseline": "middle", "color": "#000"},
      "encoding": {"x": {"field": "x", "type": "quantitative"}, "y": {"field": "y", "type": "quantitative"}, "text": {"field": "t"}}}
    ]
   }
  ], "spacing": 92, "bounds": "flush", "resolve": {"scale": {"color": "independent"}, "legend": {"color": "independent"}}}
 ]},
 {"hconcat": [
  {"width": 28, "height": 217, "data": {"values": [{}]}, "mark": {"type": "point", "opacity": 0, "size": 1}},
  {"width": 650, "height": 217,
   "title": {"text": "e)", "dx": -85, "dy": 0.6},
   "data": {"name": "e"},
   "layer": [
    {"mark": {"type": "point", "filled": true, "size": 34, "opacity": 1, "stroke": "#000", "strokeWidth": 0.3},
     "encoding": {
      "x": {"field": "x", "type": "quantitative", "scale": {"domain": [0, 1000], "nice": false, "zero": false},
        "axis": {"title": "Cycle number", "format": "d", "values": [0,100,200,300,400,500,600,700,800,900,1000], "labelExpr": "datum.value % 200 == 0 ? datum.label : ''", "tickSize": {"condition": {"test": "datum.value % 200 == 0", "value": 5}, "value": 3}}},
      "y": {"field": "y", "type": "quantitative", "scale": {"domain": [0, 200], "nice": false, "zero": false},
        "axis": {"title": "Capacity (mAh g⁻¹)", "titleFontSize": 19, "labelPadding": 0, "titlePadding": 0, "values": [0,25,50,75,100,125,150,175,200], "labelExpr": "datum.value % 50 == 0 ? datum.label : ''", "tickSize": {"condition": {"test": "datum.value % 50 == 0", "value": 5}, "value": 3}}},
      "color": {"field": "s", "type": "nominal", "scale": {"domain": ["G", "O"], "range": ["#1a1a1a", "#ff1f2a"]},
        "legend": {"orient": "none", "legendX": 16, "legendY": 8.3, "symbolType": "circle", "symbolSize": 50, "symbolStrokeColor": "#000", "symbolStrokeWidth": 0.3, "labelFontSize": 13, "rowPadding": 2.4, "labelOffset": 11,
          "labelExpr": "datum.value == 'G' ? 'Graphitic shells networks' : 'Carbon onions particles'"}}
     }},
    {"mark": {"type": "point", "filled": true, "size": 4, "color": "#ffffff", "opacity": 0.7, "strokeWidth": 0, "xOffset": -1, "yOffset": -1},
     "encoding": {"x": {"field": "x", "type": "quantitative"}, "y": {"field": "y", "type": "quantitative"}}},
    {"data": {"name": "enote"},
     "mark": {"type": "text", "fontWeight": "bold", "fontSize": 13, "font": "Liberation Sans", "align": "center", "baseline": "middle", "color": "#000"},
     "encoding": {"x": {"field": "x", "type": "quantitative"}, "y": {"field": "y", "type": "quantitative"}, "text": {"field": "t"}}}
   ]
  }
 ], "spacing": 0, "bounds": "flush", "resolve": {"scale": {"color": "independent"}, "legend": {"color": "independent"}}}
]
}
